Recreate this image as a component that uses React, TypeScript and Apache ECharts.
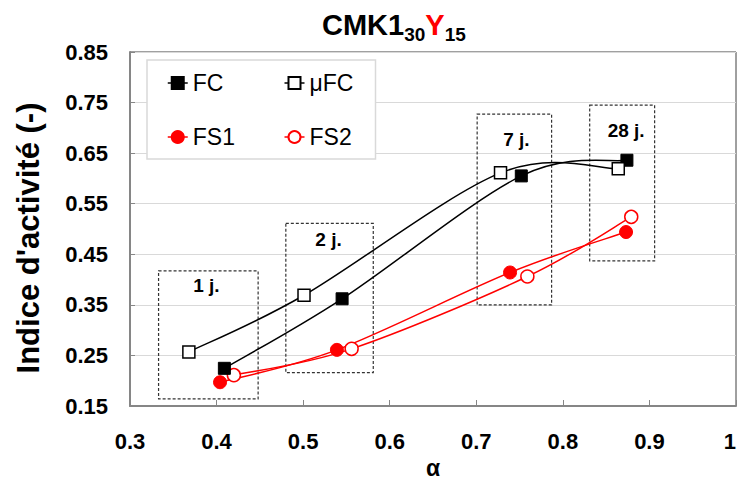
import React, { useEffect, useRef } from "react";
import * as echarts from "echarts";

// ---- data ----
const alphaFC = [0.409, 0.545, 0.752, 0.874];
const valueFC = [0.2245, 0.362, 0.605, 0.636];
const alphaMuFC = [0.368, 0.501, 0.728, 0.864];
const valueMuFC = [0.257, 0.369, 0.611, 0.619];
const alphaFS1 = [0.404, 0.539, 0.739, 0.873];
const valueFS1 = [0.197, 0.261, 0.414, 0.494];
const alphaFS2 = [0.42, 0.556, 0.759, 0.879];
const valueFS2 = [0.211, 0.263, 0.406, 0.524];

const boxLabels = ["1 j.", "2 j.", "7 j.", "28 j."];
const boxAlphaMin = [0.333, 0.48, 0.701, 0.831];
const boxAlphaMax = [0.448, 0.581, 0.787, 0.906];
const boxValueMin = [0.164, 0.216, 0.35, 0.437];
const boxValueMax = [0.417, 0.511, 0.727, 0.745];

const yTicks = [0.15, 0.25, 0.35, 0.45, 0.55, 0.65, 0.75, 0.85];

const FONT = '"Liberation Sans", Arial, sans-serif';

// label placement inside the boxes (style only)
const BOX_LABEL_STYLE = [
  { distance: 6, offset: [-2, 0] },
  { distance: 7, offset: [-1, 0] },
  { distance: 16, offset: [2, 0] },
  { distance: 16, offset: [4, 0] },
];

const pairs = (xs: number[], ys: number[]) => xs.map((x, i) => [x, ys[i]]);

// Smoothed curve (Excel-like Catmull-Rom) drawn through the library's scale (api.coord)
const curveSeries = (xs: number[], ys: number[], color: string, z: number) => ({
  type: "custom",
  name: "curve",
  silent: true,
  z,
  clip: false,
  encode: { x: 0, y: 1 },
  data: pairs(xs, ys),
  renderItem: (params: any, api: any) => {
    const n = xs.length;
    const i = params.dataIndex;
    if (i >= n - 1) return { type: "group", children: [] };
    const p = (k: number) => {
      const j = Math.max(0, Math.min(n - 1, k));
      return api.coord([xs[j], ys[j]]);
    };
    const p0 = p(i - 1);
    const p1 = p(i);
    const p2 = p(i + 1);
    const p3 = p(i + 2);
    return {
      type: "bezierCurve",
      shape: {
        x1: p1[0],
        y1: p1[1],
        x2: p2[0],
        y2: p2[1],
        cpx1: p1[0] + (p2[0] - p0[0]) / 6,
        cpy1: p1[1] + (p2[1] - p0[1]) / 6,
        cpx2: p2[0] - (p3[0] - p1[0]) / 6,
        cpy2: p2[1] - (p3[1] - p1[1]) / 6,
      },
      style: { stroke: color, lineWidth: 1.5, fill: "none" },
    };
  },
});

export default function App() {
  const ref = useRef<HTMLDivElement>(null);
  useEffect(() => {
    document.body.style.margin = "0";
    if (!ref.current) return;
    const chart = echarts.init(ref.current, undefined, { renderer: "svg" });
    const markerLine = { opacity: 0, width: 0 };
    const option: any = {
      animation: false,
      backgroundColor: "#ffffff",
      textStyle: { fontFamily: FONT },
      title: {
        text: "{a|CMK1}{s|30}{r|Y}{s|15}",
        left: 322,
        top: 6,
        padding: 0,
        textStyle: {
          rich: {
            a: { fontSize: 29, fontWeight: "bold", color: "#000", lineHeight: 38, fontFamily: FONT },
            r: { fontSize: 29, fontWeight: "bold", color: "#ff0000", lineHeight: 38, fontFamily: FONT },
            s: { fontSize: 19, fontWeight: "bold", color: "#000", lineHeight: 19, verticalAlign: "bottom", fontFamily: FONT },
          },
        },
      },
      legend: {
        data: [
          { name: "FC", lineStyle: { color: "#000", width: 1.5, opacity: 1 } },
          { name: "μFC", lineStyle: { color: "#000", width: 1.5, opacity: 1 } },
          { name: "FS1", lineStyle: { color: "#ff0000", width: 1.5, opacity: 1 } },
          { name: "FS2", lineStyle: { color: "#ff0000", width: 1.5, opacity: 1 } },
        ],
        left: 147,
        top: 60,
        width: 210,
        orient: "horizontal",
        padding: [10, 3, 9, 20],
        itemGap: 28,
        itemWidth: 20,
        itemHeight: 15,
        backgroundColor: "#ffffff",
        borderColor: "#d9d9d9",
        borderWidth: 1.5,
        textStyle: { fontSize: 23, color: "#000", width: 63, lineHeight: 26, fontFamily: FONT },
      },
      grid: {
        left: 130,
        right: 2,
        top: 52,
        bottom: 77,
        show: true,
        borderColor: "#404040",
        borderWidth: 1,
        containLabel: false,
        outerBoundsMode: "none",
      },
      xAxis: {
        type: "value",
        min: 0.3,
        max: 1,
        interval: 0.1,
        name: "α",
        nameLocation: "middle",
        nameGap: 50,
        nameTextStyle: { fontSize: 23, fontWeight: "bold", color: "#000", fontFamily: FONT },
        axisLine: { show: true, lineStyle: { color: "#868686", width: 2 } },
        axisTick: { show: true, inside: true, length: 6, lineStyle: { color: "#868686" } },
        axisLabel: {
          fontSize: 22,
          fontWeight: "bold",
          color: "#000",
          margin: 24,
          fontFamily: FONT,
          hideOverlap: false,
          alignMaxLabel: "right",
          formatter: (v: number) => String(Math.round(v * 10) / 10),
        },
        splitLine: { show: false },
      },
      yAxis: {
        type: "value",
        min: 0.15,
        max: 0.85,
        interval: 0.05,
        name: "Indice d'activité (-)",
        nameLocation: "middle",
        nameGap: 86,
        nameTextStyle: { fontSize: 31, fontWeight: "bold", color: "#000", fontFamily: FONT, padding: [0, 18, 0, 0] },
        axisLine: { show: true, lineStyle: { color: "#868686", width: 2 } },
        axisTick: { show: true, inside: true, length: 5, customValues: yTicks, lineStyle: { color: "#868686" } },
        axisLabel: {
          fontSize: 22,
          fontWeight: "bold",
          color: "#000",
          margin: 22,
          customValues: yTicks,
          fontFamily: FONT,
          formatter: (v: number) => v.toFixed(2),
        },
        splitLine: { show: true, lineStyle: { color: "#d9d9d9", width: 1 } },
      },
      series: [
        {
          name: "boxes",
          type: "line",
          data: [],
          silent: true,
          markArea: {
            silent: true,
            itemStyle: {
              color: "rgba(0,0,0,0)",
              borderColor: "#333",
              borderWidth: 1.2,
              borderType: [3, 2],
            },
            label: {
              show: true,
              position: "insideTop",
              fontSize: 19,
              fontWeight: "bold",
              color: "#000",
              fontFamily: FONT,
            },
            data: boxLabels.map((lab, i) => [
              {
                name: lab,
                coord: [boxAlphaMin[i], boxValueMax[i]],
                label: BOX_LABEL_STYLE[i],
              },
              { coord: [boxAlphaMax[i], boxValueMin[i]] },
            ]),
          },
        },
        curveSeries(alphaFC, valueFC, "#000", 3),
        curveSeries(alphaMuFC, valueMuFC, "#000", 3),
        curveSeries(alphaFS1, valueFS1, "#ff0000", 2),
        curveSeries(alphaFS2, valueFS2, "#ff0000", 2),
        {
          name: "FC",
          type: "line",
          data: pairs(alphaFC, valueFC),
          symbol: "rect",
          symbolSize: 12,
          lineStyle: { color: "#000", ...markerLine },
          itemStyle: { color: "#000", borderColor: "#000", borderWidth: 1 },
          z: 6,
        },
        {
          name: "μFC",
          type: "line",
          data: pairs(alphaMuFC, valueMuFC),
          symbol: "rect",
          symbolSize: 12,
          lineStyle: { color: "#000", ...markerLine },
          itemStyle: { color: "#fff", borderColor: "#000", borderWidth: 1.5 },
          z: 6,
        },
        {
          name: "FS1",
          type: "line",
          data: pairs(alphaFS1, valueFS1),
          symbol: "circle",
          symbolSize: 13,
          lineStyle: { color: "#ff0000", ...markerLine },
          itemStyle: { color: "#ff0000", borderColor: "#ff0000", borderWidth: 1 },
          z: 5,
        },
        {
          name: "FS2",
          type: "line",
          data: pairs(alphaFS2, valueFS2),
          symbol: "circle",
          symbolSize: 13,
          lineStyle: { color: "#ff0000", ...markerLine },
          itemStyle: { color: "#fff", borderColor: "#ff0000", borderWidth: 1.5 },
          z: 5,
        },
      ],
    };
    chart.setOption(option);
    return () => chart.dispose();
  }, []);
  return <div ref={ref} style={{ width: 738, height: 483 }} />;
}
